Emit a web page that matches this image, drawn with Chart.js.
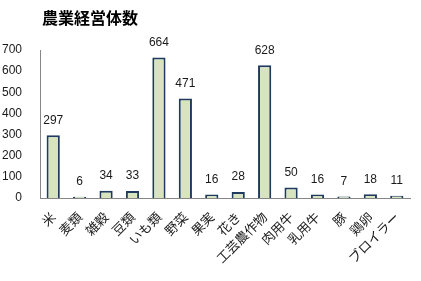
<!DOCTYPE html>
<html><head><meta charset="utf-8">
<script src="https://cdn.jsdelivr.net/npm/chart.js@4"></script>
<style>html,body{margin:0;padding:0;background:#fff}#wrap{width:421px;height:281px;position:relative}</style>
</head><body><div id="wrap"><canvas id="c" width="421" height="281"></canvas></div>
<script>
const titleText = "農業経営体数";
const categories = ["米","麦類","雑穀","豆類","いも類","野菜","果実","花き","工芸農作物","肉用牛","乳用牛","豚","鶏卵","ブロイラー"];
const values = [297, 6, 34, 33, 664, 471, 16, 28, 628, 50, 16, 7, 18, 11];
const yTicks = [0,100,200,300,400,500,600,700];

const FONT = "'Liberation Sans','Noto Sans CJK JP',sans-serif";
const JFONT = "'Noto Sans CJK JP',sans-serif";

const labelPlugin = {
  id: 'valLabels',
  afterDatasetsDraw(chart) {
    const ctx = chart.ctx;
    const meta = chart.getDatasetMeta(0);
    ctx.save();
    ctx.font = "12px " + FONT;
    ctx.fillStyle = "#1a1a1a";
    ctx.textAlign = "center";
    ctx.textBaseline = "bottom";
    meta.data.forEach((bar, i) => {
      ctx.fillText(String(values[i]), bar.x, bar.y - 9);
    });
    ctx.font = "bold 16px " + JFONT;
    ctx.fillStyle = "#000";
    ctx.textAlign = "left";
    ctx.textBaseline = "middle";
    ctx.fillText(titleText, chart.chartArea.left + 2, 18);
    ctx.restore();
  }
};

new Chart(document.getElementById('c'), {
  type: 'bar',
  data: {
    labels: categories,
    datasets: [{
      data: values,
      backgroundColor: '#d7e4bd',
      borderColor: '#1f3a5f',
      borderWidth: 2,
      borderSkipped: 'bottom',
      barPercentage: 0.5,
      categoryPercentage: 1.0
    }]
  },
  options: {
    responsive: false,
    animation: false,
    events: [],
    layout: { padding: { top: 50, right: 11, left: 0, bottom: 0 } },
    plugins: { legend: { display: false }, tooltip: { enabled: false }, title: { display: false } },
    scales: {
      y: {
        min: 0, max: 700,
        afterFit(s) { s.width = 40; },
        afterBuildTicks(s) { s.ticks = yTicks.map(v => ({ value: v })); },
        grid: { display: false, drawTicks: false },
        border: { display: true, color: '#868686', width: 1 },
        ticks: { color: '#1a1a1a', font: { size: 12, family: FONT }, padding: 18 }
      },
      x: {
        afterFit(s) { s.height = 83; },
        grid: { display: false, drawTicks: false },
        border: { display: true, color: '#868686', width: 1 },
        ticks: { color: '#1a1a1a', font: { size: 13, family: JFONT }, maxRotation: 45, minRotation: 45, autoSkip: false, padding: 11 }
      }
    }
  },
  plugins: [labelPlugin]
});
</script></body></html>
